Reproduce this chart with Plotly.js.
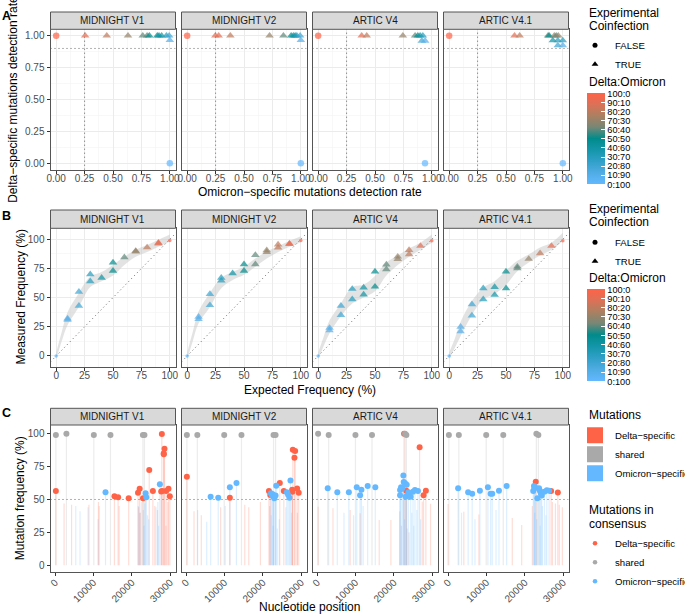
<!DOCTYPE html>
<html><head><meta charset="utf-8">
<script src="https://cdn.plot.ly/plotly-3.0.1.min.js"></script>
<style>html,body{margin:0;padding:0;background:#fff}#chart{width:685px;height:614px}</style>
</head><body><div id="chart"></div>
<script>
// ---------------- DATA ----------------
const facets = ["MIDNIGHT V1", "MIDNIGHT V2", "ARTIC V4", "ARTIC V4.1"];
const ratioVals = [0, 0.1, 0.2, 0.3, 0.4, 0.5, 0.6, 0.7, 0.8, 0.9, 1];
const ratioLabels = ["0:100", "10:90", "20:80", "30:70", "40:60", "50:50", "60:40", "70:30", "80:20", "90:10", "100:0"];

// Panel A: omicron detection rate (x), delta detection rate (y), delta fraction of mix, coinfection
const A_MV1_omi = [0.00, 0.255, 0.445, 0.632, 0.762, 0.80, 0.82, 0.89, 0.905, 0.928, 0.97, 0.994, 1.00, 1.00];
const A_MV1_del = [1, 1, 1, 1, 1, 1, 1, 1, 1, 1, 1, 1, 0.965, 0];
const A_MV1_mix = [1.0, 0.9, 0.8, 0.7, 0.6, 0.6, 0.5, 0.5, 0.4, 0.4, 0.3, 0.2, 0.1, 0.0];
const A_MV1_coinf = [false, true, true, true, true, true, true, true, true, true, true, true, true, false];

const A_MV2_omi = [0.00, 0.248, 0.277, 0.38, 0.725, 0.847, 0.915, 0.935, 0.95, 0.965, 0.994, 1.00, 1.00];
const A_MV2_del = [1, 1, 1, 1, 1, 1, 1, 1, 1, 1, 1, 0.965, 0];
const A_MV2_mix = [1.0, 0.9, 0.9, 0.8, 0.7, 0.6, 0.5, 0.4, 0.4, 0.3, 0.2, 0.1, 0.0];
const A_MV2_coinf = [false, true, true, true, true, true, true, true, true, true, true, true, false];

const A_A4_omi = [0.00, 0.383, 0.427, 0.745, 0.853, 0.877, 0.897, 0.921, 0.912, 0.941, 0.94];
const A_A4_del = [1, 1, 1, 1, 1, 1, 1, 1, 0.96, 0.96, 0];
const A_A4_mix = [1.0, 0.9, 0.8, 0.7, 0.6, 0.5, 0.4, 0.3, 0.2, 0.1, 0.0];
const A_A4_coinf = [false, true, true, true, true, true, true, true, true, true, false];

const A_A41_omi = [0.00, 0.575, 0.62, 0.87, 0.88, 0.925, 0.942, 0.96, 0.912, 0.956, 1.00, 0.956, 1.00, 1.00];
const A_A41_del = [1, 1, 1, 1, 1, 1, 1, 1, 0.963, 0.963, 0.963, 0.924, 0.924, 0];
const A_A41_mix = [1.0, 0.9, 0.8, 0.6, 0.5, 0.7, 0.6, 0.7, 0.4, 0.3, 0.3, 0.2, 0.1, 0.0];
const A_A41_coinf = [false, true, true, true, true, true, true, true, true, true, true, true, true, false];

// Panel A thresholds
const A_omiThreshold = 0.25;
const A_deltaThreshold = 0.9;

// Panel B: expected (%) vs measured (%) delta frequency
const B_MV1_exp = [0, 10, 10, 20, 20, 30, 30, 40, 50, 50, 60, 70, 70, 80, 90, 90, 100];
const B_MV1_meas = [0, 32, 31, 55, 43, 70, 64, 67, 80, 73, 84.5, 90, 89.5, 93, 97, 96.3, 99];
const B_MV2_exp = [0, 10, 10, 20, 20, 30, 30, 40, 50, 50, 60, 60, 70, 70, 80, 80, 90, 90, 100];
const B_MV2_meas = [0, 33.5, 31.5, 53, 43.5, 67, 64.5, 70.8, 78.5, 73, 86.5, 78.5, 90.5, 89, 95.5, 92.8, 96.3, 95.8, 99];
const B_A4_exp = [0, 10, 10, 20, 20, 30, 30, 40, 40, 50, 50, 60, 60, 70, 70, 80, 80, 90, 100];
const B_A4_meas = [0, 24, 22, 43, 35, 57.4, 48.6, 58.6, 52.6, 72.3, 59.4, 78.3, 74.3, 85.1, 83, 90.8, 87.1, 94.3, 98.8];
const B_A41_exp = [0, 10, 10, 20, 20, 30, 30, 40, 40, 50, 50, 60, 60, 70, 80, 90, 100];
const B_A41_meas = [0, 25, 21, 44.3, 34.6, 58, 48.6, 59, 52.3, 72.3, 58, 76.5, 75, 83.1, 88, 94.3, 98.8];

// Panel B smooth band (lower / upper), read at these expected frequencies
const B_band_x = [0, 5, 10, 20, 30, 40, 50, 60, 70, 80, 90, 100];
const B_MV1_lo = [-3, 13, 26.5, 42, 59, 64, 69, 78, 85, 89, 93.5, 98];
const B_MV1_hi = [3, 21, 37.5, 54, 68, 72, 78, 85, 91, 95, 99.5, 104];
const B_MV2_lo = [-3, 13, 28, 42, 58, 65, 69.5, 76.5, 83.5, 89, 93.5, 97.5];
const B_MV2_hi = [3, 21, 38, 54, 67, 72, 76.5, 83.5, 89.5, 94, 98.5, 102.5];
const B_A4_lo = [-3, 9, 19.5, 34, 45, 50, 55.5, 69, 78, 85, 91, 97];
const B_A4_hi = [3, 17, 30.5, 45, 59, 61, 68.5, 80, 86, 92, 97, 104];
const B_A41_lo = [-3, 7, 17, 35, 48.5, 53, 61, 72.5, 80, 86, 91, 98.5];
const B_A41_hi = [3, 15, 29, 47, 58.5, 64, 73, 81.5, 87, 93, 97, 105.5];

// Panel C: mutation position and frequency (%), by mutation type
const C_MV1_delta_pos = [200, 15480, 16430, 19190, 21620, 22050, 22920, 24550, 25500, 27670, 27840, 27920, 28320, 28360, 28530, 28960, 29570, 29920, 2340, 4300, 8820, 11300, 11500, 16700, 21800, 22200, 26000, 26700, 28900, 29400];
const C_MV1_delta_freq = [56.4, 52.4, 51.6, 50.9, 55.1, 58.2, 50.9, 72.4, 56.4, 56, 99.7, 56.4, 85, 84.3, 88.5, 56.4, 58.2, 52.4, 47, 46, 46, 48, 45, 45, 44, 40, 45, 42, 30, 48];
const C_MV1_omi_pos = [13150, 23600, 23780, 27320, 5400, 6500, 8600, 11200, 21700, 22100, 22500, 23000, 23200, 23400, 24100, 24400, 26300, 26800, 27000];
const C_MV1_omi_freq = [55.4, 54.7, 51.6, 61.5, 45, 41, 44, 35, 45, 40, 48, 42, 30, 47, 38, 35, 44, 48, 30];
const C_MV1_shared_pos = [200, 2950, 10100, 14440, 22900, 23300];
const C_MV1_shared_freq = [99, 100, 99, 99, 99, 99];

const C_MV2_delta_pos = [200, 11410, 21600, 21950, 24440, 25480, 27660, 27720, 27830, 28260, 28440, 28960, 29370, 2070, 3970, 9000, 15300, 16350, 19380, 21800, 29000];
const C_MV2_delta_freq = [67.3, 51.4, 56.4, 53.4, 62.5, 56.4, 57.3, 55.8, 87.8, 81.7, 86.8, 58.4, 55.1, 41, 38, 44, 46, 44, 48, 45, 40];
const C_MV2_omi_pos = [6400, 8380, 11410, 13140, 22130, 22400, 22600, 22800, 23000, 23330, 23500, 26260, 26600, 26960, 27220, 3000, 5370, 10200, 22200, 22700, 23800, 24300, 26000, 27500];
const C_MV2_omi_freq = [52.1, 51.4, 59.2, 62.5, 54.7, 53, 54, 52, 51, 53, 60.5, 55.4, 53.6, 51.4, 64.5, 42, 33, 45, 38, 30, 28, 35, 44, 40];
const C_MV2_shared_pos = [200, 2930, 9940, 14440, 22800, 23330];
const C_MV2_shared_freq = [99, 99, 99, 99, 99, 99];

const C_A4_delta_pos = [22680, 23280, 26740, 27770, 28370, 260, 4140, 8640, 11220, 16200, 19240, 21570, 27420, 29590, 22000, 24000];
const C_A4_delta_freq = [100, 56.6, 89.6, 53.2, 56.6, 44.5, 43.3, 42, 39.5, 34.4, 34.4, 40.8, 48.4, 46.7, 30, 25];
const C_A4_omi_pos = [2770, 5270, 8280, 10340, 11220, 11560, 13190, 15180, 21640, 21640, 21900, 22240, 22500, 22590, 22940, 23120, 23370, 23800, 24410, 25010, 25520, 26300, 7000, 9500, 12000, 22800, 23500, 24700, 25200, 26000, 27000];
const C_A4_omi_freq = [58.5, 55.4, 55.4, 59.2, 53.2, 57.3, 60.2, 59.2, 53.2, 57.2, 59.2, 58.5, 68.3, 63.3, 62.3, 52.1, 61.2, 55.4, 52.1, 55.9, 57.2, 56.4, 40, 38, 45, 35, 28, 40, 30, 42, 35];
const C_A4_shared_pos = [260, 3020, 10000, 14320, 22940, 23280];
const C_A4_shared_freq = [100, 99, 99, 99, 100, 99];

const C_A41_delta_pos = [22860, 26860, 28620, 0, 4100, 8030, 16740, 19200, 21970, 27200, 28000, 29000, 29800];
const C_A41_delta_freq = [63.5, 56.4, 55.3, 46.5, 40.7, 38.5, 36, 30.6, 45, 48, 47, 46, 44];
const C_A41_omi_pos = [2620, 5230, 6280, 8290, 10380, 11090, 11510, 13260, 15270, 22200, 22400, 22500, 22700, 23280, 23720, 23950, 24200, 24420, 25110, 25740, 26340, 3500, 7000, 12500, 22600, 23100, 24000, 24600, 25500];
const C_A41_omi_freq = [58.5, 55.4, 54.3, 56.6, 59.2, 54.3, 54.3, 56.6, 60.2, 56.4, 60.2, 58.4, 59.2, 51, 58.5, 56.5, 54.5, 53, 55.8, 57, 56.6, 40, 35, 42, 40, 35, 30, 45, 38];
const C_A41_shared_pos = [200, 2800, 9940, 14390, 23020, 23540];
const C_A41_shared_freq = [99, 99, 99, 99, 100, 99];

const mutTypes = ["Delta\u2212specific", "shared", "Omicron\u2212specific"];

// ---------------- STYLE / GEOMETRY ----------------
const W = 685, H = 614;
const FONT = "Liberation Sans, Arial, Helvetica, sans-serif";
const px = v => v / W, py = v => 1 - v / H;
const cols = [[50.5, 175.5], [181.5, 306.5], [312.5, 437.5], [443.5, 568.5]];
const rowsPx = [{strip: 12, top: 29.3, bot: 169.7}, {strip: 210, top: 228.3, bot: 366.7}, {strip: 408.3, top: 425, bot: 571.7}];
const colorscale = [[0, '#63B8FF'], [0.125, '#50ACE4'], [0.25, '#30A0C8'], [0.375, '#1496AA'], [0.5, '#008B8B'],
  [0.625, '#778776'], [0.75, '#AB8061'], [0.875, '#DC7157'], [1, '#FF6347']];
const typeColor = {"Delta\u2212specific": '#FF6347', "shared": '#A9A9A9', "Omicron\u2212specific": '#63B8FF'};
const typeLine = {"Delta\u2212specific": 'rgba(255,99,71,0.22)', "shared": 'rgba(169,169,169,0.22)', "Omicron\u2212specific": 'rgba(99,184,255,0.22)'};
const DOT = '1px,3px';

const axCfg = [
  {xr: [-0.05, 1.05], yr: [-0.05, 1.05], xdt: 0.25, ydt: 0.25, xf: '.2f', yf: '.2f', grid: true, ang: 0},
  {xr: [-5, 105], yr: [-9.2, 109.4], xdt: 25, ydt: 25, xf: 'd', yf: 'd', grid: true, ang: 0},
  {xr: [-1200, 31400], yr: [-4.9, 106.6], xdt: 10000, ydt: 25, xf: 'd', yf: 'd', grid: false, ang: -45}
];

const layout = {
  width: W, height: H, margin: {l: 0, r: 0, t: 0, b: 0, autoexpand: false},
  paper_bgcolor: '#fff', plot_bgcolor: '#fff', font: {family: FONT, color: '#000'},
  showlegend: true, shapes: [], annotations: [], hovermode: false
};

function ax(i) { return i === 1 ? '' : String(i); }
const traces = [];
const dotLine = {color: '#666', width: 1, dash: DOT};

for (let r = 0; r < 3; r++) {
  for (let c = 0; c < 4; c++) {
    const i = r * 4 + c + 1, s = ax(i), cfg = axCfg[r], R = rowsPx[r];
    const common = {
      showline: true, mirror: true, linecolor: '#555', linewidth: 1, zeroline: false,
      gridcolor: '#EBEBEB', gridwidth: 1, showgrid: cfg.grid, tick0: 0,
      ticks: 'outside', ticklen: 3, tickwidth: 1, tickcolor: '#333',
      tickfont: {size: 10, color: '#4D4D4D', family: FONT}, fixedrange: true
    };
    layout['xaxis' + s] = Object.assign({}, common, {
      domain: [px(cols[c][0]), px(cols[c][1])], anchor: 'y' + s, range: cfg.xr,
      dtick: cfg.xdt, tickformat: cfg.xf, tickangle: cfg.ang, ticklabelstandoff: r === 2 ? -3 : -4,
      minor: cfg.grid ? {dtick: cfg.xdt / 2, tick0: 0, showgrid: true, gridcolor: '#F3F3F3', gridwidth: 0.6} : undefined
    });
    layout['yaxis' + s] = Object.assign({}, common, {
      domain: [py(R.bot), py(R.top)], anchor: 'x' + s, range: cfg.yr,
      dtick: cfg.ydt, tickformat: cfg.yf, showticklabels: c === 0, ticks: c === 0 ? 'outside' : '',
      minor: cfg.grid ? {dtick: cfg.ydt / 2, tick0: 0, showgrid: true, gridcolor: '#F3F3F3', gridwidth: 0.6} : undefined
    });
    // strip
    layout.shapes.push({type: 'rect', xref: 'paper', yref: 'paper', x0: px(cols[c][0]), x1: px(cols[c][1]),
      y0: py(R.top), y1: py(R.strip), fillcolor: '#D9D9D9', line: {color: '#555', width: 1}});
    layout.annotations.push({text: facets[c], xref: 'paper', yref: 'paper', x: px((cols[c][0] + cols[c][1]) / 2),
      y: py((R.strip + R.top) / 2), xanchor: 'center', yanchor: 'middle', showarrow: false,
      font: {size: 10, color: '#1A1A1A', family: FONT}});
    // reference lines (drawn as traces so they sit above grid lines)
    if (r === 0) {
      traces.push({type: 'scatter', mode: 'lines', x: [A_omiThreshold, A_omiThreshold], y: cfg.yr, xaxis: 'x' + s, yaxis: 'y' + s, showlegend: false, line: dotLine});
      traces.push({type: 'scatter', mode: 'lines', x: cfg.xr, y: [A_deltaThreshold, A_deltaThreshold], xaxis: 'x' + s, yaxis: 'y' + s, showlegend: false, line: dotLine});
    } else if (r === 2) {
      traces.push({type: 'scatter', mode: 'lines', x: cfg.xr, y: [50, 50], xaxis: 'x' + s, yaxis: 'y' + s, showlegend: false, line: dotLine});
    }
  }
}

function cbar(topPx, lenPx) {
  return {x: px(586.7), xanchor: 'left', y: py(topPx), yanchor: 'top', len: lenPx, lenmode: 'pixels',
    thickness: 18, thicknessmode: 'pixels', xpad: 0, ypad: 0, outlinewidth: 0,
    tickmode: 'array', tickvals: ratioVals, ticktext: ratioLabels, ticks: 'inside', ticklen: 4,
    tickcolor: '#fff', tickwidth: 1, tickfont: {size: 9.2, color: '#000', family: FONT}};
}

// Panel A
const Aset = [[A_MV1_omi, A_MV1_del, A_MV1_mix, A_MV1_coinf], [A_MV2_omi, A_MV2_del, A_MV2_mix, A_MV2_coinf],
  [A_A4_omi, A_A4_del, A_A4_mix, A_A4_coinf], [A_A41_omi, A_A41_del, A_A41_mix, A_A41_coinf]];
Aset.forEach((d, c) => {
  const s = ax(c + 1);
  traces.push({type: 'scatter', mode: 'markers', x: d[0], y: d[1], xaxis: 'x' + s, yaxis: 'y' + s, showlegend: false,
    cliponaxis: false,
    marker: {color: d[2], colorscale: colorscale, cmin: 0, cmax: 1, showscale: c === 0, colorbar: c === 0 ? cbar(93.3, 91) : undefined,
      symbol: d[3].map(v => v ? 'triangle-up' : 'circle'), size: d[3].map(v => v ? 7.5 : 6.5), line: {width: 0}}});
});

// Panel B
const Bset = [[B_MV1_exp, B_MV1_meas, B_MV1_lo, B_MV1_hi], [B_MV2_exp, B_MV2_meas, B_MV2_lo, B_MV2_hi],
  [B_A4_exp, B_A4_meas, B_A4_lo, B_A4_hi], [B_A41_exp, B_A41_meas, B_A41_lo, B_A41_hi]];
Bset.forEach((d, c) => {
  const s = ax(c + 5);
  traces.push({type: 'scatter', mode: 'lines', x: B_band_x, y: d[2], xaxis: 'x' + s, yaxis: 'y' + s, showlegend: false,
    line: {width: 0, shape: 'spline', color: 'rgba(0,0,0,0)'}});
  traces.push({type: 'scatter', mode: 'lines', x: B_band_x, y: d[3], xaxis: 'x' + s, yaxis: 'y' + s, showlegend: false,
    fill: 'tonexty', fillcolor: 'rgba(200,200,200,0.5)', line: {width: 0, shape: 'spline', color: 'rgba(0,0,0,0)'}});
  traces.push({type: 'scatter', mode: 'lines', x: [-10, 110], y: [-10, 110], xaxis: 'x' + s, yaxis: 'y' + s, showlegend: false,
    line: dotLine});
  const coinf = d[0].map(v => v > 0 && v < 100);
  traces.push({type: 'scatter', mode: 'markers', x: d[0], y: d[1], xaxis: 'x' + s, yaxis: 'y' + s, showlegend: false,
    marker: {color: d[0].map(v => v / 100), colorscale: colorscale, cmin: 0, cmax: 1, showscale: c === 0,
      colorbar: c === 0 ? cbar(289.3, 92) : undefined,
      symbol: coinf.map(v => v ? 'triangle-up' : 'circle'), size: coinf.map(v => v ? 7.5 : 3.5), line: {width: 0}}});
});

// Panel C
const Cset = [
  [[C_MV1_delta_pos, C_MV1_delta_freq], [C_MV1_shared_pos, C_MV1_shared_freq], [C_MV1_omi_pos, C_MV1_omi_freq]],
  [[C_MV2_delta_pos, C_MV2_delta_freq], [C_MV2_shared_pos, C_MV2_shared_freq], [C_MV2_omi_pos, C_MV2_omi_freq]],
  [[C_A4_delta_pos, C_A4_delta_freq], [C_A4_shared_pos, C_A4_shared_freq], [C_A4_omi_pos, C_A4_omi_freq]],
  [[C_A41_delta_pos, C_A41_delta_freq], [C_A41_shared_pos, C_A41_shared_freq], [C_A41_omi_pos, C_A41_omi_freq]]
];
Cset.forEach((set, c) => {
  const s = ax(c + 9);
  set.forEach((d, t) => {
    const xs = [], ys = [];
    d[0].forEach((p, k) => { xs.push(p, p, null); ys.push(0, d[1][k], null); });
    traces.push({type: 'scatter', mode: 'lines', x: xs, y: ys, xaxis: 'x' + s, yaxis: 'y' + s, showlegend: false,
      line: {color: typeLine[mutTypes[t]], width: 1.2}});
  });
  set.forEach((d, t) => {
    const xs = [], ys = [];
    d[0].forEach((p, k) => { if (d[1][k] >= 50) { xs.push(p); ys.push(d[1][k]); } });
    traces.push({type: 'scatter', mode: 'markers', x: xs, y: ys, xaxis: 'x' + s, yaxis: 'y' + s, showlegend: false,
      cliponaxis: false, marker: {color: typeColor[mutTypes[t]], size: 6, line: {width: 0}}});
  });
});

// Legend entries
['legend', 'legend2'].forEach(lg => {
  traces.push({type: 'scatter', mode: 'markers', x: [null], y: [null], name: 'FALSE', legend: lg, marker: {color: '#000', symbol: 'circle', size: 5}});
  traces.push({type: 'scatter', mode: 'markers', x: [null], y: [null], name: 'TRUE', legend: lg, marker: {color: '#000', symbol: 'triangle-up', size: 6}});
});
mutTypes.forEach(t => traces.push({type: 'scatter', mode: 'markers', x: [null], y: [null], name: t, legend: 'legend3',
  marker: {color: typeColor[t], symbol: 'square', size: 16}}));
mutTypes.forEach(t => traces.push({type: 'scatter', mode: 'markers', x: [null], y: [null], name: t, legend: 'legend4',
  marker: {color: typeColor[t], symbol: 'circle', size: 4.5}}));

function lg(topPx) {
  return {x: px(575), xanchor: 'left', y: py(topPx), yanchor: 'top', bgcolor: 'rgba(0,0,0,0)', borderwidth: 0,
    font: {size: 9.6, color: '#000', family: FONT}, itemwidth: 30, traceorder: 'normal'};
}
layout.legend = lg(30.8);
layout.legend2 = lg(227.8);
layout.legend3 = lg(420.8);
layout.legend4 = lg(528.8);

function ann(text, x, y, o) {
  layout.annotations.push(Object.assign({text: text, xref: 'paper', yref: 'paper', x: px(x), y: py(y),
    xanchor: 'left', yanchor: 'middle', showarrow: false, font: {size: 12, color: '#000', family: FONT}}, o || {}));
}
// legend titles
ann('Experimental', 586.7, 13); ann('Coinfection', 586.7, 25.5); ann('Delta:Omicron', 586.7, 81.7);
ann('Experimental', 586.7, 209); ann('Coinfection', 586.7, 222.2); ann('Delta:Omicron', 586.7, 278.3);
ann('Mutations', 586.7, 415); ann('Mutations in', 586.7, 509.8); ann('consensus', 586.7, 523.5);
// panel letters
ann('<b>A</b>', 0, 16, {font: {size: 12.5, color: '#000', family: FONT}});
ann('<b>B</b>', 0, 216, {font: {size: 12.5, color: '#000', family: FONT}});
ann('<b>C</b>', 0, 413, {font: {size: 12.5, color: '#000', family: FONT}});
// axis titles
const midX = (cols[0][0] + cols[3][1]) / 2;
ann('Omicron\u2212specific mutations detection rate', midX, 191.7, {xanchor: 'center'});
ann('Expected Frequency (%)', midX, 390, {xanchor: 'center'});
ann('Nucleotide position', midX, 606.5, {xanchor: 'center'});
ann('Delta\u2212specific mutations detection rate', 13.3, 99.5, {xanchor: 'center', textangle: -90});
ann('Measured Frequency (%)', 20, 297.5, {xanchor: 'center', textangle: -90});
ann('Mutation frequency (%)', 20, 498.3, {xanchor: 'center', textangle: -90});

Plotly.newPlot('chart', traces, layout, {displayModeBar: false, staticPlot: true});
</script>
</body></html>
